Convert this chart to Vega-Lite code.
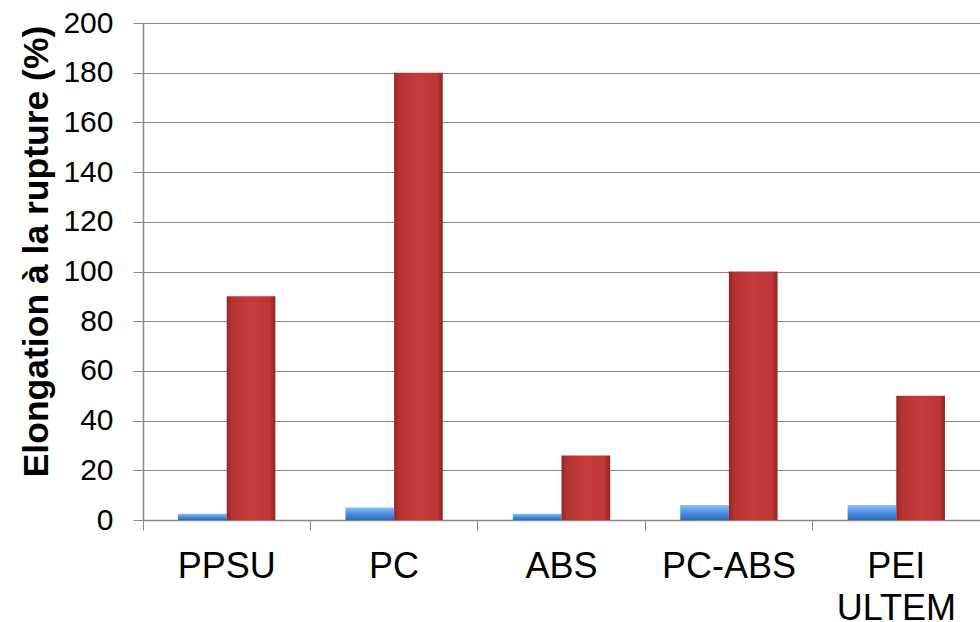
{
  "$schema": "https://vega.github.io/schema/vega-lite/v6.json",
  "width": 837,
  "height": 497,
  "autosize": {"type": "none"},
  "padding": {"left": 143, "top": 23, "right": 0, "bottom": 102},
  "background": "white",
  "config": {
    "view": {"stroke": null},
    "font": "Liberation Sans"
  },
  "data": {
    "values": [
      {"materiau": "PPSU", "serie": "a", "valeur": 2.5},
      {"materiau": "PPSU", "serie": "b", "valeur": 90},
      {"materiau": "PC", "serie": "a", "valeur": 5},
      {"materiau": "PC", "serie": "b", "valeur": 180},
      {"materiau": "ABS", "serie": "a", "valeur": 2.5},
      {"materiau": "ABS", "serie": "b", "valeur": 26},
      {"materiau": "PC-ABS", "serie": "a", "valeur": 6},
      {"materiau": "PC-ABS", "serie": "b", "valeur": 100},
      {"materiau": "PEI ULTEM", "serie": "a", "valeur": 6},
      {"materiau": "PEI ULTEM", "serie": "b", "valeur": 50}
    ]
  },
  "encoding": {
    "x": {
      "field": "materiau",
      "type": "nominal",
      "sort": null,
      "scale": {"paddingInner": 0, "paddingOuter": 0},
      "axis": {
        "title": null,
        "labelAngle": 0,
        "labelFont": "Liberation Sans",
        "labelFontSize": 36,
        "labelColor": "#000000",
        "labelPadding": 19,
        "labelLineHeight": 42,
        "labelBaseline": "top",
        "labelExpr": "split(datum.label, ' ')",
        "bandPosition": 0,
        "tickSize": 10,
        "tickColor": "#888888",
        "domainColor": "#888888",
        "domainWidth": 1.5,
        "grid": false
      }
    },
    "xOffset": {
      "field": "serie",
      "type": "nominal",
      "scale": {"paddingInner": 0, "paddingOuter": 0.72}
    },
    "y": {
      "field": "valeur",
      "type": "quantitative",
      "scale": {"domain": [0, 200], "nice": false},
      "axis": {
        "values": [0, 20, 40, 60, 80, 100, 120, 140, 160, 180, 200],
        "title": "Elongation à la rupture (%)",
        "titleFont": "Liberation Sans",
        "titleFontSize": 35.5,
        "titleFontWeight": "bold",
        "titleColor": "#000000",
        "titleAngle": -90,
        "titleAlign": "center",
        "titleBaseline": "alphabetic",
        "titleX": -96,
        "titleY": 228,
        "labelFont": "Liberation Sans",
        "labelFontSize": 30,
        "labelColor": "#000000",
        "labelPadding": 20,
        "tickSize": 10,
        "tickColor": "#888888",
        "domainColor": "#888888",
        "domainWidth": 1.5,
        "grid": true,
        "gridColor": "#888888",
        "gridWidth": 1
      }
    }
  },
  "layer": [
    {
      "transform": [{"filter": "datum.serie === 'a'"}],
      "mark": {
        "type": "bar",
        "fill": {
          "gradient": "linear",
          "x1": 0, "y1": 0, "x2": 0, "y2": 1,
          "stops": [
            {"offset": 0, "color": "#8cc2f6"},
            {"offset": 0.45, "color": "#4f95e3"},
            {"offset": 1, "color": "#2e68b4"}
          ]
        }
      }
    },
    {
      "transform": [{"filter": "datum.serie === 'b'"}],
      "mark": {
        "type": "bar",
        "fill": {
          "gradient": "linear",
          "x1": 0, "y1": 0, "x2": 1, "y2": 0,
          "stops": [
            {"offset": 0, "color": "#962626"},
            {"offset": 0.12, "color": "#b83434"},
            {"offset": 0.5, "color": "#c63b3b"},
            {"offset": 0.88, "color": "#bf3636"},
            {"offset": 1, "color": "#922424"}
          ]
        }
      }
    }
  ]
}
